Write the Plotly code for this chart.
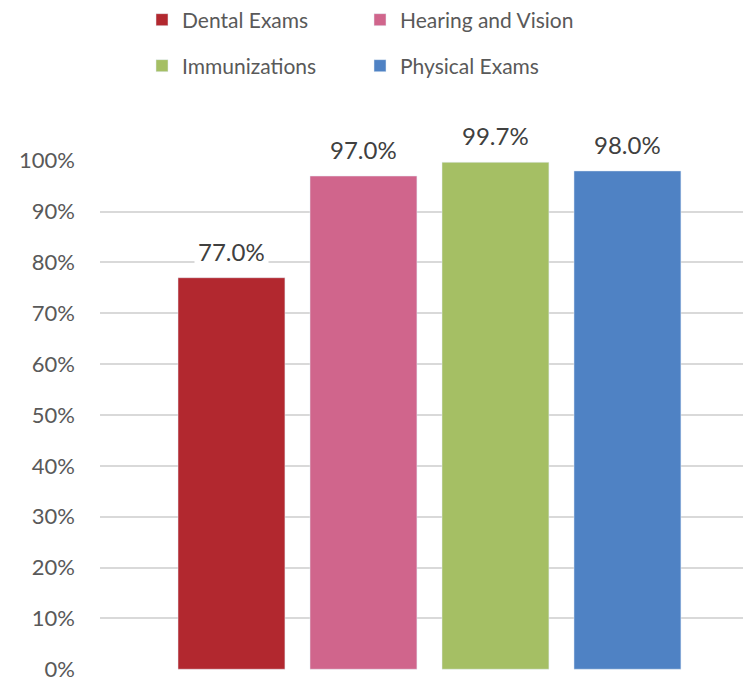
import plotly.graph_objects as go

categories = ["Dental Exams", "Hearing and Vision", "Immunizations", "Physical Exams"]
values = [77.0, 97.0, 99.7, 98.0]
labels = ["77.0%", "97.0%", "99.7%", "98.0%"]
colors = ["#B2282F", "#D0658C", "#A5BF64", "#4F82C4"]
legend_ids = ["legend", "legend", "legend2", "legend2"]
y_ticks = list(range(0, 101, 10))
y_ticklabels = [f"{t}%" for t in y_ticks]

FONT = "Lato"
# the page body has an 8px default margin, so the figure is drawn 8px in
OFF = 8
W, H = 751 - OFF, 681 - OFF

fig = go.Figure()
for cat, val, col, lg in zip(categories, values, colors, legend_ids):
    fig.add_trace(go.Bar(
        x=[cat], y=[val], name=cat, marker_color=col, width=0.81,
        legend=lg, hoverinfo="skip",
    ))

for cat, val, lab in zip(categories, values, labels):
    fig.add_annotation(
        x=cat, y=val, text=lab, showarrow=False, yanchor="bottom",
        yshift=8, bgcolor="white", borderpad=3,
        font=dict(family=FONT, size=24, color="#404040"),
    )

legend_common = dict(
    orientation="h", xanchor="left", yanchor="middle",
    xref="container", yref="container",
    entrywidth=173, entrywidthmode="pixels",
    font=dict(family=FONT, size=21, color="#595959"),
    bgcolor="rgba(0,0,0,0)", itemclick=False, itemdoubleclick=False,
)

fig.update_layout(
    width=W, height=H,
    margin=dict(l=100 - OFF, r=0, t=160 - OFF, b=11, autoexpand=False),
    paper_bgcolor="white", plot_bgcolor="white",
    barmode="overlay",
    showlegend=True,
    legend=dict(x=(142 - OFF) / W, y=1 - (20 - OFF) / H, **legend_common),
    legend2=dict(x=(142 - OFF) / W, y=1 - (66 - OFF) / H, **legend_common),
    xaxis=dict(
        type="category", categoryorder="array", categoryarray=categories,
        range=[-0.996, 3.936], showticklabels=False, showgrid=False,
        zeroline=False, showline=False, fixedrange=True, automargin=False,
    ),
    yaxis=dict(
        range=[-0.15, 100.15], tickvals=y_ticks, ticktext=y_ticklabels,
        showgrid=True, gridcolor="#D9D9D9", gridwidth=1.5,
        zeroline=False, showline=False, ticks="", ticklen=0,
        tickfont=dict(family=FONT, size=22, color="#595959"),
        ticklabelstandoff=24, fixedrange=True, automargin=False,
        ticklabeloverflow="allow",
    ),
)

fig.write_html("out.html")
